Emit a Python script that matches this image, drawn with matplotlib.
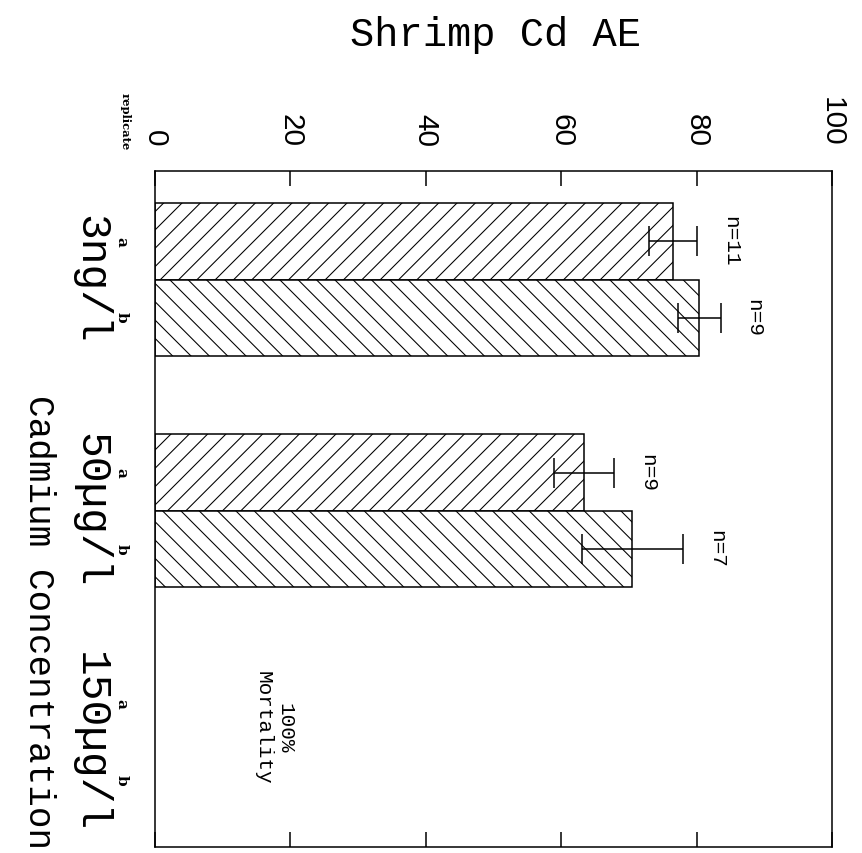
import numpy as np
import matplotlib
matplotlib.use('Agg')
import matplotlib.pyplot as plt
import matplotlib.transforms as mtransforms

# 데이터
groups = ['3ng/l', '50µg/l', '150µg/l']
replicates = ['a', 'b']
mean_a = [76.5, 63.4, None]
mean_b = [80.4, 70.5, None]
err_a = [3.6, 4.4, None]
err_b = [3.2, 7.5, None]
n_a = [11, 9, None]
n_b = [9, 7, None]
value_ticks = [0, 20, 40, 60, 80, 100]
hatches = ['//', '\\\\']

DPI = 110
def pt(px):
    return px * 72.0 / DPI

plt.rcParams['hatch.linewidth'] = 0.7
mono = 'Liberation Mono'

fig = plt.figure(figsize=(862 / DPI, 853 / DPI), dpi=DPI)
ax = fig.add_axes([155 / 862, 1 - 847 / 853, 677 / 862, 676 / 853])
trans = mtransforms.blended_transform_factory(ax.transAxes, ax.transData)

bar_h = 0.33
series = zip([mean_a, mean_b], [err_a, err_b], [n_a, n_b], hatches)
for r, (means, errs, ns, hatch) in enumerate(series):
    off = (r - 0.5) * bar_h
    for g in range(len(groups)):
        y = g + off
        if means[g] is not None:
            ax.barh(y, means[g], height=bar_h, color='white', edgecolor='black',
                    hatch=hatch, linewidth=1.0)
            ax.errorbar(means[g], y, xerr=errs[g], fmt='none', ecolor='black',
                        elinewidth=1.0, capsize=pt(15), capthick=1.0)
            ax.text(means[g] + errs[g] + 3.5, y, 'n=%d' % ns[g], rotation=-90,
                    ha='left', va='center', family=mono, fontsize=pt(21))
        # replicate 라벨
        ax.text(-0.049, y, replicates[r], transform=trans, rotation=-90,
                ha='center', va='center', family='DejaVu Serif',
                fontweight='bold', fontsize=10)

# 농도 라벨
for g, name in enumerate(groups):
    ax.text(-0.096, g, name, transform=trans, rotation=-90, ha='center',
            va='center', family=mono, fontsize=pt(43))

ax.text(17.6, 2 - 0.06, '100%\nMortality', rotation=-90, ha='center',
        va='center', multialignment='center', family=mono, fontsize=pt(21))

ax.set_xlim(0, 100)
ax.set_ylim(2.455, -0.47)
ax.set_yticks([])
ax.set_xticks(value_ticks)
ax.xaxis.tick_top()
ax.tick_params(axis='x', which='both', direction='in', length=pt(15),
               width=1.0, top=True, bottom=True, labeltop=True,
               labelbottom=False, pad=pt(24), labelrotation=-90,
               labelsize=pt(29.7), labelfontfamily='Liberation Sans')
for s in ax.spines.values():
    s.set_linewidth(1.0)

fig.text(495 / 862, 1 - 35 / 853, 'Shrimp Cd AE', ha='center', va='center',
         family=mono, fontsize=pt(40.4))
fig.text(125 / 862, 1 - 122 / 853, 'replicate', rotation=-90, ha='center',
         va='center', family='DejaVu Serif', fontweight='bold', fontsize=7.5)
fig.text(38 / 862, 1 - 622 / 853, 'Cadmium Concentration', rotation=-90,
         ha='center', va='center', family=mono, fontsize=pt(36))

fig.savefig('out.png', dpi=DPI)
